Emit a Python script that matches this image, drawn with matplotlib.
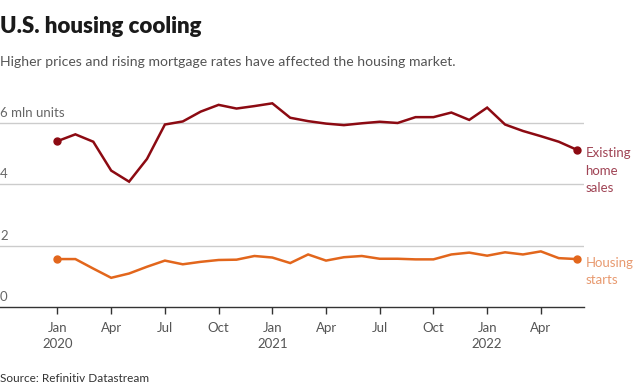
import numpy as np
import pandas as pd
import matplotlib
matplotlib.use("Agg")
import matplotlib.pyplot as plt

plt.rcParams['font.family'] = ['Lato', 'DejaVu Sans']

# monthly data, Jan 2020 - Jun 2022 (mln units, annual rate)
months = pd.date_range('2020-01-01', '2022-06-01', freq='MS')
existing_sales = [5.40, 5.62, 5.38, 4.44, 4.08, 4.82, 5.94, 6.04, 6.36, 6.58,
                  6.46, 6.54, 6.63, 6.16, 6.05, 5.97, 5.92, 5.98, 6.03, 5.99,
                  6.18, 6.18, 6.33, 6.09, 6.49, 5.94, 5.73, 5.56, 5.38, 5.12]
housing_starts = [1.56, 1.56, 1.25, 0.95, 1.09, 1.31, 1.51, 1.39, 1.47, 1.53,
                  1.54, 1.66, 1.61, 1.43, 1.71, 1.51, 1.62, 1.66, 1.57, 1.57,
                  1.55, 1.55, 1.71, 1.77, 1.67, 1.78, 1.71, 1.81, 1.59, 1.56]
y_ticks = [0, 2, 4, 6]
y_labels = ['0', '2', '4', '6 mln units']
tick_labels = ['Jan\n2020', 'Apr', 'Jul', 'Oct', 'Jan\n2021', 'Apr', 'Jul', 'Oct',
               'Jan\n2022', 'Apr']

red = '#8c0a12'
orange = '#e2661c'

fig = plt.figure(figsize=(6.4, 3.88), dpi=100)
ax = fig.add_axes([0.0, 0.2088, 0.9125, 0.5542])

x = np.arange(len(months))
ax.plot(x, existing_sales, color=red, lw=1.8, solid_joinstyle='miter')
ax.plot(x, housing_starts, color=orange, lw=1.8, solid_joinstyle='miter')
ax.plot([x[0], x[-1]], [existing_sales[0], existing_sales[-1]], 'o', color=red, ms=5)
ax.plot([x[0], x[-1]], [housing_starts[0], housing_starts[-1]], 'o', color=orange, ms=5)

ax.set_xlim(-3.21, 29.41)
ax.set_ylim(0, 7)

for yt, lab in zip(y_ticks, y_labels):
    if yt > 0:
        ax.axhline(yt, color='#cccccc', lw=1, zorder=0)
    ax.text(-3.21, yt + 0.12, lab, fontsize=9.5, color='#666666', ha='left', va='bottom')

ax.set_yticks([])
ax.set_xticks(x[::3])
ax.set_xticklabels(tick_labels, fontsize=9.5, color='#555555', linespacing=1.4)
ax.tick_params(axis='x', length=5, width=1, color='#333333', pad=6)
for s in ['top', 'right', 'left']:
    ax.spines[s].set_visible(False)
ax.spines['bottom'].set_color('#333333')
ax.spines['bottom'].set_linewidth(1)

ax.text(29.5, existing_sales[-1] + 0.08, 'Existing\nhome\nsales', fontsize=9.5,
        color='#a04455', ha='left', va='top', linespacing=1.55, clip_on=False)
ax.text(29.5, housing_starts[-1] + 0.08, 'Housing\nstarts', fontsize=9.5,
        color='#e89a70', ha='left', va='top', linespacing=1.55, clip_on=False)

fig.text(0.0, 1 - 33 / 388, 'U.S. housing cooling', fontsize=16, fontweight='heavy',
         color='#1a1a1a', ha='left', va='baseline')
fig.text(0.0, 1 - 66 / 388, 'Higher prices and rising mortgage rates have affected the housing market.',
         fontsize=10.1, color='#555555', ha='left', va='baseline')
fig.text(0.0, 1 - 382 / 388, 'Source: Refinitiv Datastream', fontsize=8.5,
         color='#333333', ha='left', va='baseline')

fig.savefig('out.png', dpi=100)
